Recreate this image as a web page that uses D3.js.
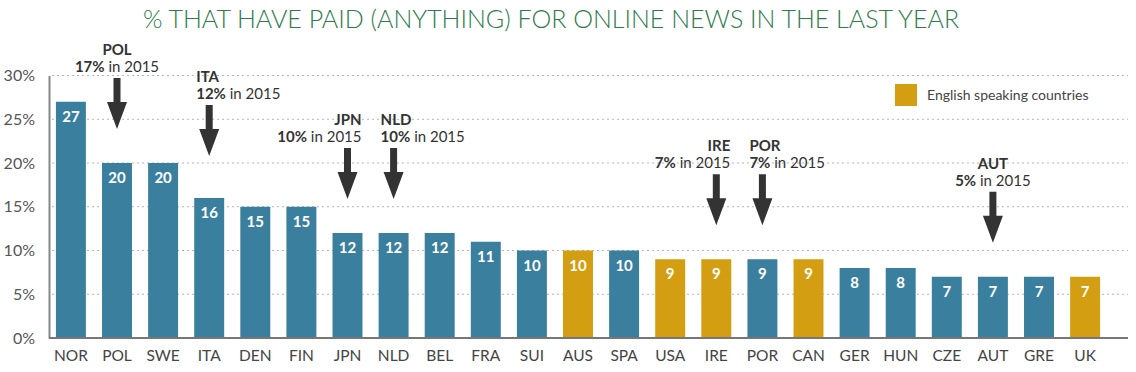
<!DOCTYPE html>
<html>
<head>
<meta charset="utf-8">
<script src="https://cdn.jsdelivr.net/npm/d3@7.9.0/dist/d3.min.js"></script>
<style>
  html, body { margin: 0; padding: 0; background: #fff; }
  svg { display: block; font-family: "Lato", "Liberation Sans", sans-serif; }
</style>
</head>
<body>
<svg id="chart" width="1136" height="372"></svg>
<script>
const countries = ["NOR", "POL", "SWE", "ITA", "DEN", "FIN", "JPN", "NLD", "BEL", "FRA", "SUI", "AUS",
  "SPA", "USA", "IRE", "POR", "CAN", "GER", "HUN", "CZE", "AUT", "GRE", "UK"];
const paid = [27, 20, 20, 16, 15, 15, 12, 12, 12, 11, 10, 10, 10, 9, 9, 9, 9, 8, 8, 7, 7, 7, 7];
const englishSpeaking = ["AUS", "USA", "IRE", "CAN", "UK"];
const yTicks = [0, 5, 10, 15, 20, 25, 30];

// 2015 comparisons with arrows
const noteCountries = ["POL", "ITA", "JPN", "NLD", "IRE", "POR", "AUT"];
const noteValues2015 = [17, 12, 10, 10, 7, 7, 5];
const noteAlign = ["middle", "start", "end", "start", "end", "start", "middle"];

const title = "% THAT HAVE PAID (ANYTHING) FOR ONLINE NEWS IN THE LAST YEAR";
const legendLabel = "English speaking countries";

const blue = "#3b7f9e";
const gold = "#d49e12";

const svg = d3.select("#chart");

const x = d3.scaleBand()
  .domain(countries)
  .range([49, 1107])
  .paddingInner(0.35)
  .paddingOuter(0.15);

const y = d3.scaleLinear()
  .domain([0, 30])
  .range([338, 75.5]);

// title
svg.append("text")
  .attr("x", 551)
  .attr("y", 28)
  .attr("text-anchor", "middle")
  .attr("fill", "#2f7a4e")
  .style("font-size", "25px")
  .style("font-weight", 300)
  .text(title);

// dotted gridlines
svg.append("g")
  .selectAll("line")
  .data(yTicks.filter((d) => d > 0))
  .join("line")
  .attr("x1", 52)
  .attr("x2", 1128)
  .attr("y1", (d) => y(d))
  .attr("y2", (d) => y(d))
  .attr("stroke", "#b5b5b5")
  .attr("stroke-width", 1)
  .attr("stroke-dasharray", "2,3");

// y axis
const yAxis = svg.append("g")
  .attr("transform", "translate(49,0)")
  .call(d3.axisLeft(y).tickValues(yTicks).tickFormat((d) => d + "%").tickSize(0).tickPadding(14));
yAxis.select(".domain").attr("stroke", "#888").attr("stroke-width", 2);
yAxis.selectAll("text")
  .attr("fill", "#555")
  .style("font-size", "16px")
  .style("font-family", "Lato, 'Liberation Sans', sans-serif");

// bars
svg.append("g")
  .selectAll("rect")
  .data(countries)
  .join("rect")
  .attr("x", (d) => x(d))
  .attr("y", (d, i) => y(paid[i]))
  .attr("width", x.bandwidth())
  .attr("height", (d, i) => y(0) - y(paid[i]))
  .attr("fill", (d) => englishSpeaking.includes(d) ? gold : blue);

// value labels
svg.append("g")
  .selectAll("text")
  .data(countries)
  .join("text")
  .attr("x", (d) => x(d) + x.bandwidth() / 2)
  .attr("y", (d, i) => y(paid[i]) + 20)
  .attr("text-anchor", "middle")
  .attr("fill", "#fff")
  .style("font-size", "15px")
  .style("font-weight", 700)
  .text((d, i) => paid[i]);

// baseline + x axis
const xAxis = svg.append("g")
  .attr("transform", `translate(0,${y(0)})`)
  .call(d3.axisBottom(x).tickSize(0).tickPadding(12));
xAxis.select(".domain").remove();
svg.append("line")
  .attr("x1", 49)
  .attr("x2", 1128)
  .attr("y1", y(0))
  .attr("y2", y(0))
  .attr("stroke", "#777")
  .attr("stroke-width", 2);
xAxis.selectAll("text")
  .attr("fill", "#444")
  .style("font-size", "15.5px")
  .style("font-family", "Lato, 'Liberation Sans', sans-serif");

// annotations
const notes = svg.append("g");
noteCountries.forEach((c, i) => {
  const cx = x(c) + x.bandwidth() / 2;
  const v = paid[countries.indexOf(c)];
  const tip = y(v) - (c === "ITA" ? 42 : 34);
  const top = tip - 51;
  const g = notes.append("g");
  g.append("path")
    .attr("d", d3.line()([
      [cx - 3.5, top], [cx + 3.5, top], [cx + 3.5, tip - 27], [cx + 10, tip - 27],
      [cx, tip], [cx - 10, tip - 27], [cx - 3.5, tip - 27]
    ]) + "Z")
    .attr("fill", "#333");
  const anchor = noteAlign[i];
  const tx = anchor === "start" ? cx - 13 : anchor === "end" ? cx + 14 : cx;
  g.append("text")
    .attr("x", tx)
    .attr("y", top - 23)
    .attr("text-anchor", anchor)
    .attr("fill", "#333")
    .style("font-size", "15px")
    .style("font-weight", 700)
    .text(c);
  const t2 = g.append("text")
    .attr("x", tx)
    .attr("y", top - 6)
    .attr("text-anchor", anchor)
    .attr("fill", "#333")
    .style("font-size", "15px");
  t2.append("tspan").style("font-weight", 700).text(noteValues2015[i] + "%");
  t2.append("tspan").text(" in 2015");
});

// legend
svg.append("rect")
  .attr("x", 895)
  .attr("y", 84)
  .attr("width", 22)
  .attr("height", 22)
  .attr("fill", gold);
svg.append("text")
  .attr("x", 927)
  .attr("y", 100)
  .attr("fill", "#444")
  .style("font-size", "14px")
  .text(legendLabel);
</script>
</body>
</html>
